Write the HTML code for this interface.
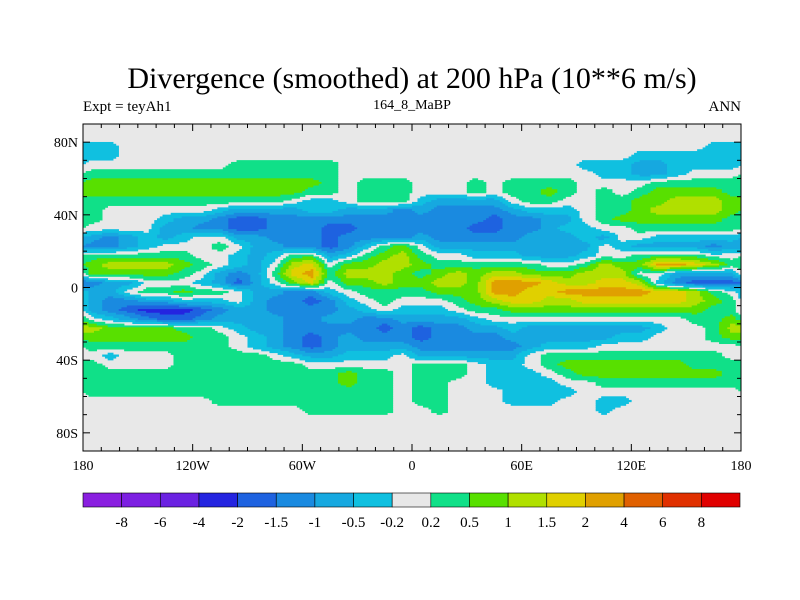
<!DOCTYPE html>
<html><head><meta charset="utf-8"><style>
html,body{margin:0;padding:0;background:#fff;}
svg{display:block;font-family:"Liberation Serif",serif;}
</style></head><body>
<svg id="chart" width="800" height="600" viewBox="0 0 800 600">
<text x="412" y="88" font-size="30" text-anchor="middle">Divergence (smoothed) at 200 hPa (10**6 m/s)</text>
<text x="83" y="111" font-size="15">Expt = teyAh1</text>
<text x="412" y="109" font-size="14" text-anchor="middle">164_8_MaBP</text>
<text x="741" y="111" font-size="15" text-anchor="end">ANN</text>
<g id="cells"></g>
<g id="axes"></g>
<g id="cbar"></g>
</svg>
<script>
// Level codes per 10x5 degree cell: '3'..'7' negative levels, '.' near zero, '9','a'..'d' positive levels
const lonStart = -180, lonStep = 10, latStart = 90, latStep = 5;
const westRows = [
"..................",
"..................",
"77................",
"77................",
"........999999....",
"99999999999999....",
"aaaaaaaaaaaaa9.999",
"aaaaaaaaaaaa99.999",
"99999999999.77.999",
"9......76666776665",
"9...76654455555555",
"....66554455544555",
"656767..6655545555",
"5567...9.66554579a",
"999999..76799679ab",
"abbbba9.76.bc.aabb",
"aaaaa9.6569cd9bbba",
"566...7646.ac.aaba",
"66.99a99.66557.999",
"65566777.655457.9.",
"6543334566555567.7",
".76544566665566556",
"baaaa99.7665555545",
"aaaaaa99.765456555",
"99999999.765456666",
".7...99999.766777.",
"9....9999999......",
"99999999999999a99.",
"99999999999999a99.",
"99999999999999999.",
".......9999999999.",
"............99999.",
"..................",
"..................",
"..................",
".................."
];
const eastRows = [
"..................",
"..................",
"................77",
"............777777",
".........777667777",
"..........77667...",
"...9.9999....99999",
"...9.99a9.9.9aaaa9",
"76666.99..99aabbba",
"655556777.99abbbba",
"555545566.9aaaaaa9",
"5554455677..999999",
"65555566676..77777",
".666666666.7666656",
"9..7776667..9999..",
"a999999..9baaddcb9",
"9ababbaaabbb..6666",
"abbadddcbbccb75444",
"9aaaddccdddddccb9.",
"..9abccbbccccccba9",
"77.99aaaaaaaaaaa99",
"6667...........99a",
"45566766666667..9b",
"4555566666677...9a",
"5555556777........",
"666666.9999999999.",
"999.77.9aaaaaaa999",
"999.777.9aaaaaaaa9",
"99..7777..99999999",
"99...7777.........",
"99...777..77......",
".9........7.......",
"..................",
"..................",
"..................",
".................."
];
const levelColors = ["#8a1fe0","#7d20e2","#6b22e2","#2424e0","#1e62e0","#1a8ae0","#16a8e0","#10c0e0","#e8e8e8","#10e088","#58e000","#b0e000","#e0d000","#e0a000","#e06000","#e03000","#e00000"];
const levelLabels = ["-8","-6","-4","-2","-1.5","-1","-0.5","-0.2","0.2","0.5","1","1.5","2","4","6","8"];
const latTickValues = [80,40,0,-40,-80];
const latTickLabels = ["80N","40N","0","40S","80S"];
const lonTickValues = [-180,-120,-60,0,60,120,180];
const lonTickLabels = ["180","120W","60W","0","60E","120E","180"];

const NS="http://www.w3.org/2000/svg";
const X0=83,X1=741,Y0=124,Y1=451;
const xScale = lon => X0 + (lon+180)/360*(X1-X0);
const yScale = lat => Y0 + (90-lat)/180*(Y1-Y0);
function code(c){ if(c==='.') return 8; if(/[0-9]/.test(c)) return +c; return 10 + c.charCodeAt(0)-97; }
function mk(tag,attrs,parent){const e=document.createElementNS(NS,tag);for(const k in attrs)e.setAttribute(k,attrs[k]);parent.appendChild(e);return e;}

const grid = westRows.map((w,i)=> (w+eastRows[i]).split('').map(code));
const nR=grid.length, nC=grid[0].length;
function valueAt(lon,lat){
  // cell-center coordinates
  let fx=(lon-lonStart)/lonStep-0.5, fy=(latStart-lat)/latStep-0.5;
  fy=Math.max(0,Math.min(nR-1,fy));
  const j0=Math.floor(fx), i0=Math.floor(fy), tx=fx-j0, ty=fy-i0;
  const g=(i,j)=>grid[Math.max(0,Math.min(nR-1,i))][((j%nC)+nC)%nC];
  const a=g(i0,j0)*(1-tx)+g(i0,j0+1)*tx, b=g(i0+1,j0)*(1-tx)+g(i0+1,j0+1)*tx;
  return a*(1-ty)+b*ty;
}
const cells=document.getElementById('cells');
mk('rect',{x:X0,y:Y0,width:X1-X0,height:Y1-Y0,fill:"#e8e8e8"},cells);
const dLon=1.5, dLat=1;
for(let lat=90; lat>-90; lat-=dLat){
  let runStart=null, runLev=null;
  const flush=(endLon)=>{
    if(runLev!==null && runLev!==8){
      const r=mk('rect',{x:xScale(runStart),y:yScale(lat)-0.2,width:xScale(endLon)-xScale(runStart)+0.3,height:yScale(lat-dLat)-yScale(lat)+0.4,fill:levelColors[runLev]},cells);
      
      
    }
  };
  for(let lon=-180; lon<180-1e-9; lon+=dLon){
    const v=Math.max(0,Math.min(16,Math.round(valueAt(lon+dLon/2,lat-dLat/2))));
    if(v!==runLev){ flush(lon); runStart=lon; runLev=v; }
  }
  flush(180);
}

const axes=document.getElementById('axes');
mk('rect',{x:X0,y:Y0,width:X1-X0,height:Y1-Y0,fill:"none",stroke:"#000","stroke-width":1},axes);
for(let lon=-180;lon<=180;lon+=10){
  const x=xScale(lon), L=(lon%60===0)?7:4;
  mk('line',{x1:x,y1:Y1,x2:x,y2:Y1-L,stroke:"#000"},axes);
  mk('line',{x1:x,y1:Y0,x2:x,y2:Y0+L,stroke:"#000"},axes);
}
for(let lat=-90;lat<=90;lat+=10){
  const y=yScale(lat), L=(lat%40===0)?7:4;
  mk('line',{x1:X0,y1:y,x2:X0+L,y2:y,stroke:"#000"},axes);
  mk('line',{x1:X1,y1:y,x2:X1-L,y2:y,stroke:"#000"},axes);
}
latTickValues.forEach((v,i)=>{
  const t=mk('text',{x:X0-5,y:yScale(v)+5,"font-size":14,"text-anchor":"end"},axes);
  t.textContent=latTickLabels[i];
  
  
});
lonTickValues.forEach((v,i)=>{
  const t=mk('text',{x:xScale(v),y:470,"font-size":14,"text-anchor":"middle"},axes);
  t.textContent=lonTickLabels[i];
  
  
});

const cbar=document.getElementById('cbar');
const CB0=83,CB1=740,CBY=493,CBH=14;
const bw=(CB1-CB0)/levelColors.length;
levelColors.forEach((c,i)=>{
  const r=mk('rect',{x:CB0+i*bw,y:CBY,width:bw,height:CBH,fill:c,stroke:"#000","stroke-width":0.6},cbar);
  
  
});
levelLabels.forEach((s,i)=>{
  const t=mk('text',{x:CB0+(i+1)*bw,y:527,"font-size":15,"text-anchor":"middle"},cbar);
  t.textContent=s;
  
  
});
</script>
</body></html>
